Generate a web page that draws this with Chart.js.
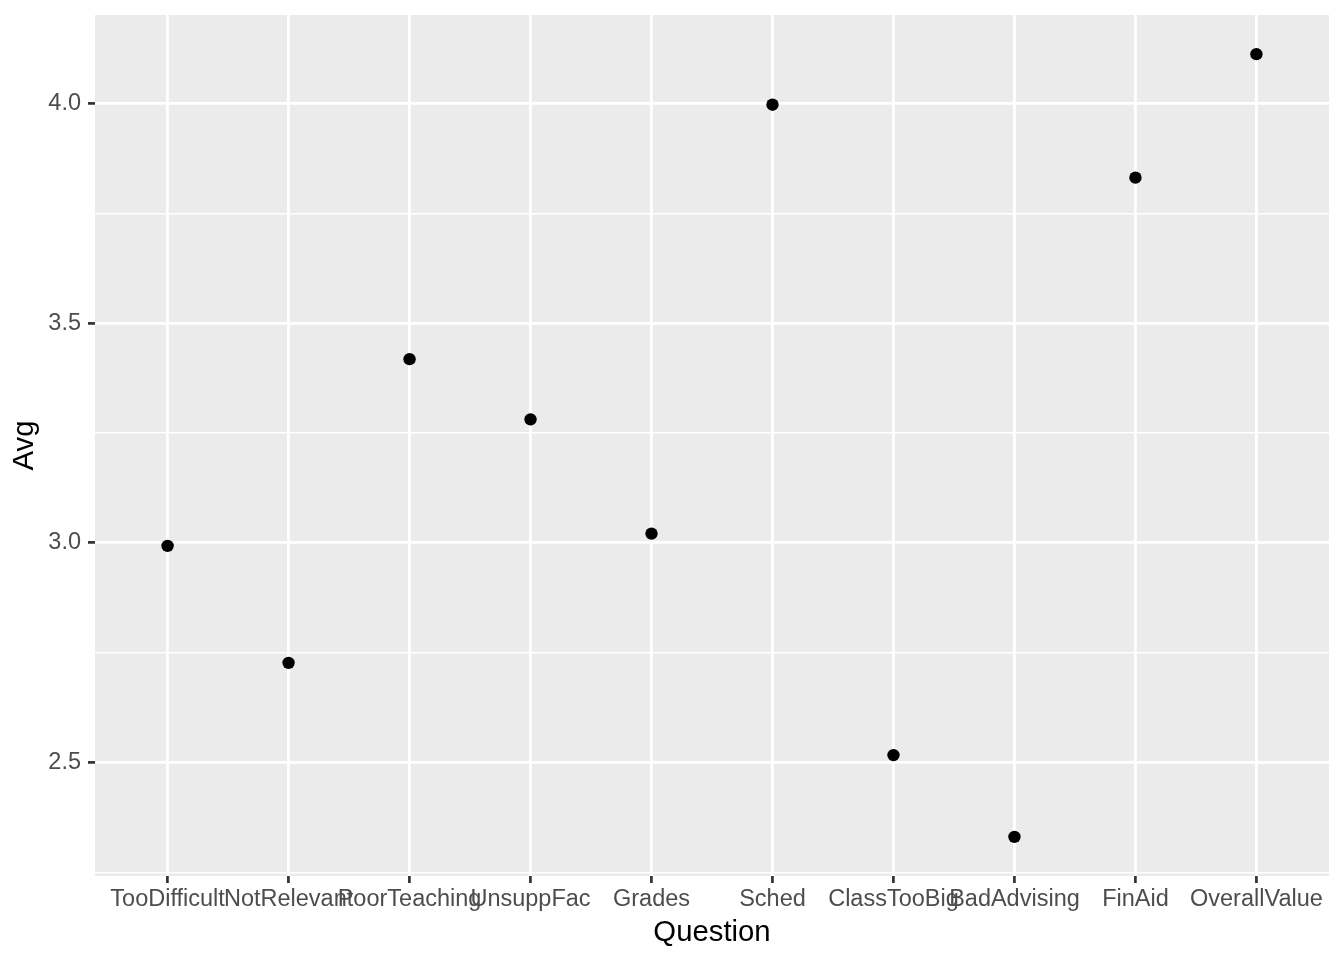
<!DOCTYPE html>
<html>
<head>
<meta charset="utf-8">
<script src="https://cdn.jsdelivr.net/npm/chart.js@4/dist/chart.umd.min.js"></script>
<style>
  html, body { margin: 0; padding: 0; background: #ffffff; }
  #wrap { width: 1344px; height: 960px; position: relative; }
</style>
</head>
<body>
<div id="wrap"><canvas id="c" width="1344" height="960"></canvas></div>
<script>
const questions = ["TooDifficult", "NotRelevant", "PoorTeaching", "UnsuppFac", "Grades", "Sched", "ClassTooBig", "BadAdvising", "FinAid", "OverallValue"];
const avgValues = [2.993, 2.727, 3.418, 3.281, 3.021, 3.997, 2.517, 2.331, 3.831, 4.112];
const yMajorTicks = [2.5, 3.0, 3.5, 4.0];
const yMinorTicks = [2.25, 2.75, 3.25, 3.75];
const xTitle = "Question";
const yTitle = "Avg";

const points = questions.map((q, i) => ({ x: i + 1, y: avgValues[i] }));
const yLo = Math.min(...avgValues), yHi = Math.max(...avgValues);
const yPad = (yHi - yLo) * 0.05;
const yMin = yLo - yPad, yMax = yHi + yPad;
const allYTicks = yMajorTicks.concat(yMinorTicks).filter(v => v >= yMin && v <= yMax).sort((a, b) => a - b);
const isMajor = v => yMajorTicks.some(m => Math.abs(m - v) < 1e-9);

const FONT = "'Liberation Sans', Arial, Helvetica, sans-serif";

const panelBg = {
  id: 'panelBg',
  beforeDraw(chart) {
    const { ctx, chartArea: a } = chart;
    ctx.save();
    ctx.fillStyle = '#EBEBEB';
    ctx.fillRect(a.left, a.top, a.right - a.left, a.bottom - a.top);
    ctx.restore();
  }
};

new Chart(document.getElementById('c'), {
  type: 'scatter',
  data: {
    datasets: [{
      data: points,
      backgroundColor: '#000000',
      borderColor: '#000000',
      borderWidth: 0,
      pointRadius: 6.2,
      pointHoverRadius: 6.2
    }]
  },
  plugins: [panelBg],
  options: {
    responsive: false,
    animation: false,
    events: [],
    layout: { padding: { top: 15, right: 15, left: 0, bottom: 0 } },
    plugins: { legend: { display: false }, tooltip: { enabled: false } },
    scales: {
      x: {
        type: 'linear',
        min: 0.4,
        max: 10.6,
        afterBuildTicks(axis) { axis.ticks = questions.map((q, i) => ({ value: i + 1 })); },
        afterFit(axis) { axis.height = 84; axis.paddingLeft = 0; axis.paddingRight = 0; },
        border: { display: false },
        grid: {
          color: '#FFFFFF',
          lineWidth: 2.8,
          drawTicks: true,
          tickLength: 7,
          tickColor: '#333333',
          tickWidth: 2.7
        },
        ticks: {
          autoSkip: false,
          maxRotation: 0,
          minRotation: 0,
          padding: 2,
          color: '#4D4D4D',
          font: { family: FONT, size: 23.5 },
          callback: (v) => questions[Math.round(v) - 1] || ''
        },
        title: {
          display: true,
          text: xTitle,
          color: '#000000',
          font: { family: FONT, size: 29.3, lineHeight: 1 },
          padding: { top: 0, bottom: 12.8 }
        }
      },
      y: {
        type: 'linear',
        min: yMin,
        max: yMax,
        afterBuildTicks(axis) { axis.ticks = allYTicks.map(v => ({ value: v })); },
        afterFit(axis) { axis.width = 95; axis.paddingTop = 0; axis.paddingBottom = 0; },
        border: { display: false },
        grid: {
          color: '#FFFFFF',
          lineWidth: (ctx) => isMajor(ctx.tick.value) ? 2.8 : 1.4,
          drawTicks: true,
          tickLength: 7,
          tickColor: (ctx) => isMajor(ctx.tick.value) ? '#333333' : 'rgba(0,0,0,0)',
          tickWidth: 2.7
        },
        ticks: {
          padding: 7,
          color: '#4D4D4D',
          font: { family: FONT, size: 23.5 },
          callback: (v) => isMajor(v) ? v.toFixed(1) : ''
        },
        title: {
          display: true,
          text: yTitle,
          color: '#000000',
          font: { family: FONT, size: 29.3, lineHeight: 1 },
          padding: { top: 10.3, bottom: 0 }
        }
      }
    }
  }
});
</script>
</body>
</html>
